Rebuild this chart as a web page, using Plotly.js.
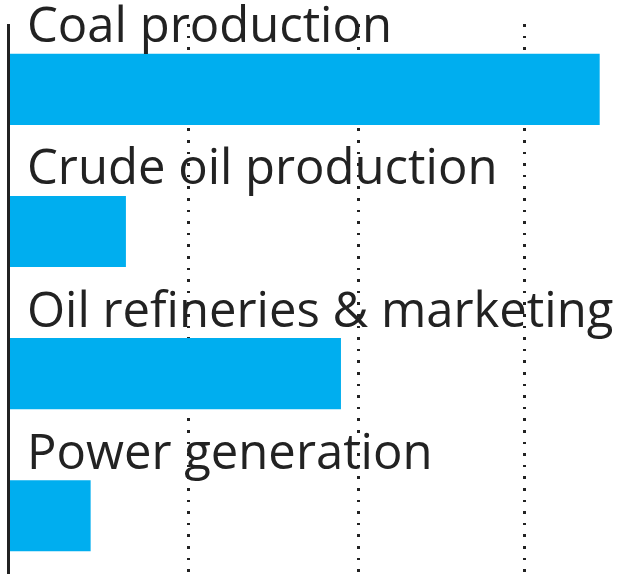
<!DOCTYPE html>
<html>
<head>
<meta charset="utf-8">
<script src="https://cdn.plot.ly/plotly-3.0.1.min.js"></script>
<style>html,body{margin:0;padding:0;background:#fff;}#chart{width:618px;height:582px;}</style>
</head>
<body>
<div id="chart"></div>
<script>
const categories = ["Coal production", "Crude oil production", "Oil refineries & marketing", "Power generation"];
const values = [351, 69, 197, 48];
const gridVals = [106.4, 207.6, 306.4];

const trace = {
  type: "bar",
  orientation: "h",
  y: categories,
  x: values,
  width: 0.5,
  marker: {color: "#00aeef", line: {width: 0}},
  hoverinfo: "skip"
};

const annotations = categories.map(c => ({
  x: 0, y: c, xref: "x", yref: "y",
  text: c, showarrow: false,
  xanchor: "left", yanchor: "bottom",
  xshift: 15, yshift: 31,
  font: {family: "Open Sans, sans-serif", size: 49, color: "#222"}
}));

const layout = {
  width: 618, height: 582,
  margin: {l: 10, r: 0, t: 24, b: 8},
  paper_bgcolor: "#fff", plot_bgcolor: "#fff",
  showlegend: false,
  xaxis: {
    range: [0, 361.9],
    tickvals: gridVals,
    showticklabels: false,
    showgrid: true, gridcolor: "#222", gridwidth: 2.6, griddash: "2.6px,9px",
    zeroline: false, showline: false, ticks: ""
  },
  yaxis: {
    type: "category",
    range: [3.41, -0.46],
    showticklabels: false, showgrid: false, zeroline: false,
    showline: true, linecolor: "#222", linewidth: 3, ticks: ""
  },
  annotations: annotations
};

Plotly.newPlot("chart", [trace], layout, {displayModeBar: false, staticPlot: true});
</script>
</body>
</html>
